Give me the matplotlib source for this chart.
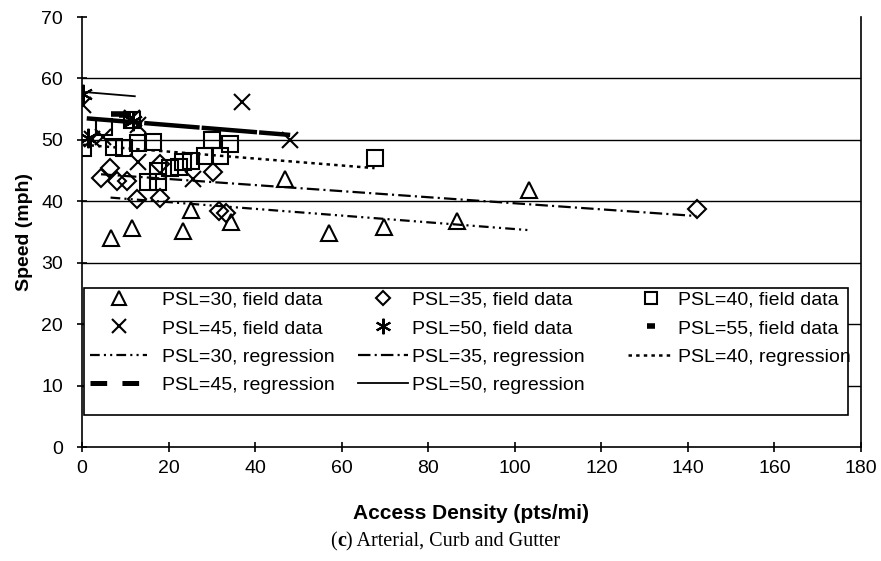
import matplotlib
matplotlib.use("Agg")
import matplotlib.pyplot as plt
from matplotlib.lines import Line2D
from matplotlib.patches import Rectangle
from matplotlib.offsetbox import TextArea, HPacker, AnchoredOffsetbox

plt.rcParams['lines.scale_dashes'] = False
sans = ['Liberation Sans', 'DejaVu Sans']

# field data (access density, speed)
psl30_x = [6.6, 11.6, 23.3, 25.2, 34.4, 46.8, 57.0, 69.8, 86.6, 103.3]
psl30_y = [34.1, 35.6, 35.1, 38.6, 36.7, 43.7, 34.8, 35.8, 36.8, 41.9]

psl35_x = [4.4, 6.4, 8.1, 10.4, 12.7, 18.0, 18.0, 30.2, 31.7, 33.2, 142.0]
psl35_y = [43.8, 45.5, 43.3, 43.3, 40.4, 40.6, 46.1, 44.8, 38.5, 38.1, 38.7]

psl40_x = [0.2, 5.0, 11.5, 7.4, 9.8, 13.0, 16.3, 15.3, 17.6, 17.6, 20.3,
           22.4, 23.4, 25.3, 28.4, 31.9, 30.0, 34.2, 67.6]
psl40_y = [48.6, 52.1, 53.2, 48.9, 48.6, 49.5, 49.7, 43.2, 43.2, 44.9, 45.4,
           45.6, 46.4, 46.6, 47.3, 47.3, 50.0, 49.4, 47.0]

psl45_x = [0.3, 2.2, 4.9, 11.5, 13.0, 13.0, 25.7, 36.9, 48.1]
psl45_y = [55.7, 50.2, 50.5, 53.5, 52.4, 46.4, 43.7, 56.2, 49.9]

psl50_x = [0.3, 1.5, 11.8]
psl50_y = [57.5, 50.3, 53.0]

psl55_x = [8.0, 10.0]
psl55_y = [54.2, 54.0]

# regression lines (end points)
reg30_x = [6.6, 103.3]
reg30_y = [40.6, 35.3]
reg35_x = [4.4, 142.0]
reg35_y = [44.4, 37.6]
reg40_x = [0.2, 67.6]
reg40_y = [49.2, 45.4]
reg45_x = [1.1, 48.1]
reg45_y = [53.5, 50.8]
reg50_x = [0.3, 12.2]
reg50_y = [57.8, 57.1]

W, H = 881, 561
fig = plt.figure(figsize=(W / 100, H / 100), dpi=100)
ax = fig.add_axes([82 / W, 1 - 447 / H, 779 / W, 430 / H])

mk = dict(linestyle='none', markerfacecolor='none', markeredgecolor='black',
          markeredgewidth=1.5, zorder=3)
h30, = ax.plot(psl30_x, psl30_y, marker='^', markersize=12, **mk)
h35, = ax.plot(psl35_x, psl35_y, marker='D', markersize=9.5, **mk)
h40, = ax.plot(psl40_x, psl40_y, marker='s', markersize=11.5, **mk)
h45, = ax.plot(psl45_x, psl45_y, marker='x', markersize=12, **mk)
h50, = ax.plot(psl50_x, psl50_y, marker=(6, 2, 0), markersize=14, **mk)
h55, = ax.plot(psl55_x, psl55_y, marker='_', markersize=8, linestyle='none',
               color='black', markeredgewidth=4, zorder=3)

r30, = ax.plot(reg30_x, reg30_y, color='black', lw=1.6, dashes=(7, 3, 1.5, 3, 1.5, 3))
r35, = ax.plot(reg35_x, reg35_y, color='black', lw=1.6, dashes=(9, 3, 1.5, 3))
r40, = ax.plot(reg40_x, reg40_y, color='black', lw=1.8, dashes=(2.5, 3))
ax.plot(reg45_x, reg45_y, color='black', lw=3.2, dashes=(40, 1.5))
r50, = ax.plot(reg50_x, reg50_y, color='black', lw=1.3)
r45 = Line2D([], [], color='black', lw=3.6, dashes=(12, 11))

ax.set_xlim(0, 180)
ax.set_ylim(0, 70)
ax.set_xticks(range(0, 181, 20))
ax.set_yticks(range(0, 71, 10))
for yv in range(10, 70, 10):
    ax.axhline(yv, color='black', lw=1.0, zorder=1)
ax.spines['top'].set_visible(False)
for s in ['left', 'bottom', 'right']:
    ax.spines[s].set_linewidth(1.2)
ax.tick_params(axis='y', direction='inout', length=7, width=1.2, labelsize=14, pad=10)
ax.tick_params(axis='x', direction='inout', length=7, width=1.2, labelsize=14, pad=6)
for lab in ax.get_xticklabels() + ax.get_yticklabels():
    lab.set_family(sans)

ax.set_ylabel('Speed (mph)', fontsize=14, fontweight='bold', family=sans, labelpad=6)
ax.set_xlabel('Access Density (pts/mi)', fontsize=15, fontweight='bold', family=sans, labelpad=19)

# legend: white framed box with three hand-placed columns
fig.patches.append(Rectangle((84 / W, 1 - 415 / H), 764 / W, 127 / H,
                             transform=fig.transFigure, facecolor='white',
                             edgecolor='black', linewidth=1.2, zorder=1))
fs = 14
px = fs * 100 / 72
columns = [
    ([h30, h45, r30, r45], ['PSL=30, field data', 'PSL=45, field data',
                            'PSL=30, regression', 'PSL=45, regression'], 90, 57, 15),
    ([h35, h50, r35, r50], ['PSL=35, field data', 'PSL=50, field data',
                            'PSL=35, regression', 'PSL=50, regression'], 358, 50, 4),
    ([h40, h55, r40], ['PSL=40, field data', 'PSL=55, field data',
                       'PSL=40, regression'], 628, 45, 5),
]
for hs, ls, x0, hl, tp in columns:
    fig.legend(hs, ls, loc='upper left', bbox_to_anchor=(x0 / W, 1 - 291 / H),
               frameon=False, prop={'family': sans, 'size': fs},
               handlelength=hl / px, handletextpad=tp / px, labelspacing=0.56,
               borderpad=0, borderaxespad=0, markerscale=0.8)

serif = ['Liberation Serif', 'DejaVu Serif']
parts = [TextArea('(', textprops=dict(family=serif, size=14.5)),
         TextArea('c', textprops=dict(family=serif, size=14.5, weight='bold')),
         TextArea(') Arterial, Curb and Gutter', textprops=dict(family=serif, size=14.5))]
box = HPacker(children=parts, align='baseline', pad=0, sep=0)
ab = AnchoredOffsetbox(loc='center', child=box, frameon=False,
                       bbox_to_anchor=(445 / W, 1 - 541 / H),
                       bbox_transform=fig.transFigure, pad=0, borderpad=0)
fig.add_artist(ab)

fig.savefig('out.png', dpi=100)
